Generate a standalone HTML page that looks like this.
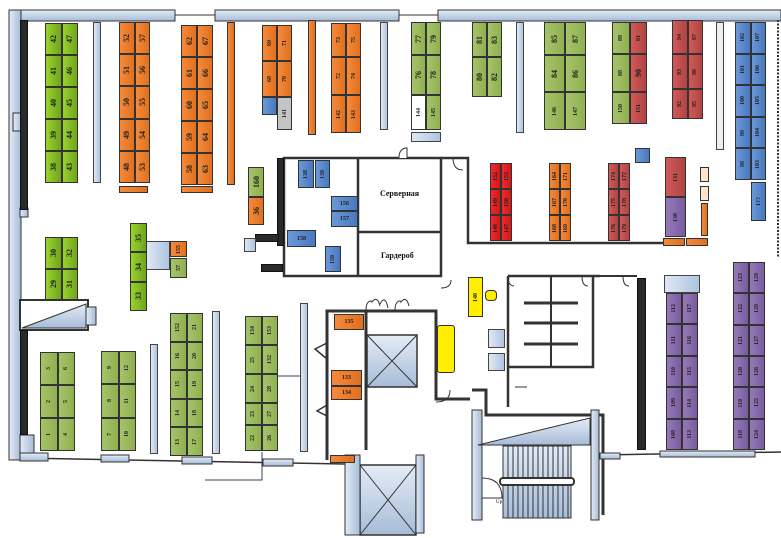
<!DOCTYPE html>
<html><head><meta charset="utf-8"><style>
body{margin:0;width:781px;height:538px;overflow:hidden;background:#fff;position:relative;font-family:"Liberation Serif","DejaVu Serif",serif}
svg{position:absolute;left:0;top:0}
.g{position:absolute;display:grid;grid-template-columns:1fr 1fr;grid-auto-flow:column}
.g>div,.s{border:1px solid #333;box-sizing:border-box;display:flex;align-items:center;justify-content:center;font-size:8px;font-weight:bold;color:#222;overflow:hidden}
.g>div span,.s span{writing-mode:vertical-rl;transform:rotate(180deg);white-space:nowrap}
.s{position:absolute}
.h span{writing-mode:horizontal-tb;transform:none}
.lg>div,.lg{background:linear-gradient(90deg,#9ad22e,#6ea51c)}
.og>div,.og{background:linear-gradient(90deg,#a5c46a,#8fb050)}
.or>div,.or{background:linear-gradient(90deg,#f58a3a,#e0701f)}
.rd>div,.rd{background:linear-gradient(90deg,#f02a2a,#d01818)}
.dr>div,.dr{background:linear-gradient(90deg,#d05a58,#b04442)}
.bl>div,.bl{background:linear-gradient(90deg,#6a98d8,#4a78c0)}
.pu>div,.pu{background:linear-gradient(90deg,#9479b8,#7a5c9e)}
.sm{font-size:6px!important}
.col{position:absolute;background:linear-gradient(90deg,#dfe8f4,#aec4e0);border:1px solid #444;box-sizing:border-box}
.blk{position:absolute;background:#2a2a2a;border:1px solid #111;box-sizing:border-box}
.t{position:absolute;font-size:9px;font-weight:bold;color:#111}
</style></head><body>
<svg width="781" height="538" viewBox="0 0 781 538">
<defs><linearGradient id="wb" x1="0" y1="0" x2="0" y2="1"><stop offset="0" stop-color="#e4ecf6"/><stop offset="1" stop-color="#a6bcd8"/></linearGradient>
<linearGradient id="wv" x1="0" y1="0" x2="1" y2="0"><stop offset="0" stop-color="#e4ecf6"/><stop offset="1" stop-color="#a6bcd8"/></linearGradient></defs>
<g stroke="#333" stroke-width="1">
<rect x="9" y="10" width="166" height="11" fill="url(#wb)"/>
<rect x="215" y="10" width="184" height="11" fill="url(#wb)"/>
<rect x="438" y="10" width="343" height="11" fill="url(#wb)"/>
<rect x="9" y="10" width="12" height="450" fill="url(#wv)"/>
<line x1="175" y1="15" x2="215" y2="15"/><line x1="399" y1="15" x2="438" y2="15"/>
<rect x="13" y="113" width="9" height="18" fill="url(#wv)"/>
<rect x="20" y="208" width="8" height="9" fill="url(#wv)"/>
<line x1="21" y1="458" x2="345" y2="464" stroke-width="1.5"/>
<rect x="20" y="453" width="28" height="8" fill="url(#wb)"/>
<rect x="101" y="455" width="28" height="7" fill="url(#wb)"/>
<rect x="182" y="457" width="30" height="7" fill="url(#wb)"/>
<rect x="263" y="459" width="30" height="7" fill="url(#wb)"/>
<!-- left stairs ramp -->
<rect x="20" y="300" width="68" height="30" fill="#fff" stroke-width="2"/>
<polygon points="22,328 86,304 86,328" fill="url(#wb)"/>
<rect x="86" y="307" width="10" height="18" fill="url(#wv)"/>
<rect x="20" y="435" width="14" height="18" fill="url(#wv)"/>
<!-- office -->
<rect x="284" y="158" width="157" height="118" fill="none" stroke-width="2.5"/>
<line x1="358" y1="158" x2="358" y2="276" stroke-width="2.5"/>
<line x1="358" y1="232" x2="441" y2="232" stroke-width="2.5"/>
<path d="M399,158 q0,-10 8,-10 v10" fill="#fff"/>
<path d="M441,288 q10,0 10,-8" fill="none"/>
<path d="M441,158 h27 v85 h200" fill="none" stroke-width="2.5"/>
<path d="M453,158 q0,12 10,12" fill="none"/>
<!-- corridor -->
<path d="M327,460 V311 H366 V450" fill="none" stroke-width="3"/>
<path d="M366,311 h70 v88 h34" fill="none" stroke-width="3"/>
<path d="M366,310 c0,-10 6,-10 6,-8 c3,-4 6,-4 8,4 M380,304 c3,-6 6,-6 8,4" fill="none"/>
<path d="M395,310 c0,-10 6,-10 6,-8 c3,-4 6,-4 8,4" fill="none"/>
<path d="M327,343 l-12,6 l12,10 M327,405 l-10,6 l10,5" fill="none" stroke-width="1.5"/>
<rect x="367" y="335" width="50" height="52" fill="url(#wb)" stroke-width="1.5"/>
<path d="M367,335 L417,387 M417,335 L367,387"/>
<path d="M360,465 h56 v70 h-56z" fill="url(#wb)" stroke-width="1.5"/>
<path d="M360,465 L416,535 M416,465 L360,535"/>
<rect x="345" y="455" width="15" height="80" fill="url(#wv)"/>
<rect x="416" y="455" width="8" height="78" fill="url(#wv)"/>
<path d="M436,402 q14,0 14,-12" fill="none"/>
<!-- lower right rooms -->
<path d="M472,390 h14 v25 h117 v100" fill="none" stroke-width="3"/>
<path d="M508,276 H600 M508,276 V407 M593,276 V367 H508" fill="none" stroke-width="2.5"/>
<path d="M508,276 q0,10 6,10 M582,276 q0,10 6,10 M623,276 q0,10 6,10" fill="none"/>
<line x1="600" y1="276" x2="637" y2="276" stroke-width="2"/>
<line x1="551" y1="276" x2="551" y2="367" stroke-width="2"/>
<g stroke-width="3"><line x1="524" y1="303" x2="578" y2="303"/><line x1="524" y1="323" x2="578" y2="323"/><line x1="524" y1="344" x2="578" y2="344"/></g>
<line x1="515" y1="387" x2="527" y2="387"/>
<rect x="472" y="410" width="10" height="110" fill="url(#wv)"/>
<rect x="591" y="410" width="8" height="110" fill="url(#wv)"/>
<polygon points="478,445 590,418 590,445" fill="url(#wb)"/>
<rect x="503" y="446" width="68" height="72" fill="url(#wb)"/>
<g stroke-width="1"><path d="M508,446v72M513,446v72M518,446v72M523,446v72M528,446v72M533,446v72M538,446v72M543,446v72M548,446v72M553,446v72M558,446v72M563,446v72M568,446v72"/></g>
<rect x="500" y="478" width="74" height="7" rx="3" fill="#fff" stroke-width="2"/>
<path d="M482,478 q20,0 20,20 h-20" fill="none"/>
<line x1="599" y1="455" x2="781" y2="452" stroke-width="1.5"/>
<rect x="600" y="453" width="20" height="6" fill="url(#wb)"/>
<rect x="660" y="451" width="95" height="6" fill="url(#wb)"/>
<path d="M778,20 V258" stroke-dasharray="2,1.5" stroke-width="2" fill="none"/>
<!-- tie lines -->
<path d="M262,452 V480 H205" fill="none" stroke="#345"/>
<line x1="278" y1="376" x2="300" y2="376" stroke="#345"/>
</g>
</svg>

<!-- black columns -->
<div class="blk" style="left:20px;top:20px;width:8px;height:190px"></div>
<div class="blk" style="left:20px;top:330px;width:8px;height:105px"></div>
<div class="blk" style="left:277px;top:158px;width:7px;height:88px"></div>
<div class="blk" style="left:255px;top:234px;width:24px;height:8px"></div>
<div class="blk" style="left:261px;top:264px;width:22px;height:8px"></div>
<div class="col" style="left:244px;top:238px;width:12px;height:14px"></div>
<div class="blk" style="left:637px;top:278px;width:9px;height:172px"></div>

<!-- grey columns -->
<div class="col" style="left:93px;top:22px;width:8px;height:161px"></div>
<div class="col" style="left:380px;top:22px;width:8px;height:108px"></div>
<div class="col" style="left:516px;top:22px;width:8px;height:111px"></div>
<div class="col" style="left:716px;top:22px;width:8px;height:128px;background:#eee"></div>
<div class="col" style="left:150px;top:344px;width:8px;height:110px"></div>
<div class="col" style="left:212px;top:311px;width:8px;height:143px"></div>
<div class="col" style="left:300px;top:303px;width:8px;height:149px"></div>
<div class="col" style="left:146px;top:241px;width:24px;height:29px"></div>
<div class="col" style="left:411px;top:132px;width:30px;height:10px"></div>
<div class="col" style="left:664px;top:275px;width:36px;height:18px"></div>
<div class="col" style="left:488px;top:329px;width:17px;height:19px"></div>
<div class="col" style="left:488px;top:353px;width:17px;height:18px"></div>

<!-- top row -->
<div class="g lg" style="left:45px;top:23px;width:33px;height:160px;grid-template-rows:repeat(5,1fr)"><div><span>42</span></div><div><span>41</span></div><div><span>40</span></div><div><span>39</span></div><div><span>38</span></div><div><span>47</span></div><div><span>46</span></div><div><span>45</span></div><div><span>44</span></div><div><span>43</span></div></div>
<div class="g or" style="left:119px;top:22px;width:31px;height:161px;grid-template-rows:repeat(5,1fr)"><div><span>52</span></div><div><span>51</span></div><div><span>50</span></div><div><span>49</span></div><div><span>48</span></div><div><span>57</span></div><div><span>56</span></div><div><span>55</span></div><div><span>54</span></div><div><span>53</span></div></div>
<div class="s or" style="left:119px;top:186px;width:29px;height:7px"></div>
<div class="g or" style="left:181px;top:25px;width:32px;height:160px;grid-template-rows:repeat(5,1fr)"><div><span>62</span></div><div><span>61</span></div><div><span>60</span></div><div><span>59</span></div><div><span>58</span></div><div><span>67</span></div><div><span>66</span></div><div><span>65</span></div><div><span>64</span></div><div><span>63</span></div></div>
<div class="s or" style="left:181px;top:186px;width:32px;height:7px"></div>
<div class="s or" style="left:227px;top:22px;width:8px;height:163px"></div>
<div class="g or" style="left:262px;top:25px;width:30px;height:72px;grid-template-rows:1fr 1fr"><div class="sm"><span>69</span></div><div class="sm"><span>68</span></div><div class="sm"><span>71</span></div><div class="sm"><span>70</span></div></div>
<div class="s bl" style="left:262px;top:97px;width:15px;height:18px"></div>
<div class="s sm" style="left:277px;top:97px;width:15px;height:33px;background:#c4c4c4"><span>141</span></div>
<div class="s or" style="left:308px;top:20px;width:8px;height:115px"></div>
<div class="g or" style="left:331px;top:23px;width:30px;height:110px;grid-template-rows:34fr 38fr 38fr"><div class="sm"><span>73</span></div><div class="sm"><span>72</span></div><div class="sm"><span>142</span></div><div class="sm"><span>75</span></div><div class="sm"><span>74</span></div><div class="sm"><span>143</span></div></div>
<div class="g og" style="left:411px;top:22px;width:30px;height:108px;grid-template-rows:33fr 40fr 35fr"><div><span>77</span></div><div><span>76</span></div><div class="sm" style="background:#fff"><span>144</span></div><div><span>79</span></div><div><span>78</span></div><div class="sm"><span>145</span></div></div>
<div class="g og" style="left:472px;top:22px;width:30px;height:75px;grid-template-rows:35fr 40fr"><div><span>81</span></div><div><span>80</span></div><div><span>83</span></div><div><span>82</span></div></div>
<div class="g og" style="left:544px;top:22px;width:42px;height:108px;grid-template-rows:33fr 37fr 38fr"><div><span>85</span></div><div><span>84</span></div><div class="sm"><span>146</span></div><div><span>87</span></div><div><span>86</span></div><div class="sm"><span>147</span></div></div>
<div class="g og" style="left:612px;top:22px;width:18px;height:102px;grid-template-columns:1fr;grid-template-rows:32fr 38fr 32fr"><div class="sm"><span>89</span></div><div class="sm"><span>88</span></div><div class="sm"><span>150</span></div></div>
<div class="g dr" style="left:630px;top:22px;width:17px;height:102px;grid-template-columns:1fr;grid-template-rows:32fr 38fr 32fr"><div class="sm"><span>91</span></div><div><span>90</span></div><div class="sm"><span>151</span></div></div>
<div class="g dr" style="left:672px;top:20px;width:31px;height:99px;grid-template-rows:34fr 35fr 30fr"><div class="sm"><span>94</span></div><div class="sm"><span>93</span></div><div class="sm"><span>92</span></div><div class="sm"><span>97</span></div><div class="sm"><span>96</span></div><div class="sm"><span>95</span></div></div>
<div class="g bl" style="left:735px;top:22px;width:31px;height:158px;grid-template-rows:repeat(5,1fr)"><div class="sm"><span>102</span></div><div class="sm"><span>101</span></div><div class="sm"><span>100</span></div><div class="sm"><span>99</span></div><div class="sm"><span>98</span></div><div class="sm"><span>107</span></div><div class="sm"><span>106</span></div><div class="sm"><span>105</span></div><div class="sm"><span>104</span></div><div class="sm"><span>103</span></div></div>
<div class="s bl sm" style="left:751px;top:182px;width:15px;height:39px"><span>1??</span></div>

<!-- middle -->
<div class="s og" style="left:248px;top:167px;width:16px;height:30px"><span>160</span></div>
<div class="s or" style="left:248px;top:197px;width:16px;height:28px"><span>36</span></div>
<div class="s bl sm" style="left:298px;top:160px;width:16px;height:28px"><span>138</span></div>
<div class="s bl sm" style="left:315px;top:160px;width:15px;height:28px"><span>139</span></div>
<div class="s bl h sm" style="left:331px;top:196px;width:27px;height:15px"><span>156</span></div>
<div class="s bl h sm" style="left:331px;top:211px;width:27px;height:16px"><span>157</span></div>
<div class="s bl h sm" style="left:287px;top:230px;width:29px;height:17px"><span>158</span></div>
<div class="s bl sm" style="left:325px;top:246px;width:16px;height:26px"><span>159</span></div>
<div class="t" style="left:380px;top:189px;font-size:8px">Серверная</div>
<div class="t" style="left:381px;top:251px;font-size:8px">Гардероб</div>
<div class="s bl" style="left:635px;top:148px;width:15px;height:15px"></div>

<div class="g rd" style="left:490px;top:163px;width:22px;height:78px;grid-template-rows:repeat(3,1fr)"><div class="sm"><span>152</span></div><div class="sm"><span>149</span></div><div class="sm"><span>148</span></div><div class="sm"><span>153</span></div><div class="sm"><span>150</span></div><div class="sm"><span>147</span></div></div>
<div class="g or" style="left:549px;top:163px;width:22px;height:78px;grid-template-rows:repeat(3,1fr)"><div class="sm"><span>164</span></div><div class="sm"><span>167</span></div><div class="sm"><span>168</span></div><div class="sm"><span>171</span></div><div class="sm"><span>170</span></div><div class="sm"><span>169</span></div></div>
<div class="s rd" style="left:608px;top:163px;width:11px;height:78px"></div>
<div class="g dr" style="left:608px;top:163px;width:22px;height:78px;grid-template-rows:repeat(3,1fr)"><div class="sm rd"><span>174</span></div><div class="sm rd"><span>175</span></div><div class="sm rd"><span>176</span></div><div class="sm"><span>177</span></div><div class="sm"><span>178</span></div><div class="sm"><span>179</span></div></div>
<div class="s dr sm" style="left:665px;top:157px;width:21px;height:40px"><span>131</span></div>
<div class="s pu sm" style="left:665px;top:197px;width:21px;height:40px"><span>130</span></div>
<div class="s or" style="left:663px;top:238px;width:22px;height:8px"></div>
<div class="s or" style="left:686px;top:238px;width:22px;height:8px"></div>
<div class="s" style="left:700px;top:167px;width:9px;height:15px;background:#fbe3cc"></div>
<div class="s" style="left:700px;top:186px;width:9px;height:15px;background:#fbe3cc"></div>
<div class="s or" style="left:701px;top:203px;width:7px;height:33px"></div>

<div class="g lg" style="left:45px;top:237px;width:33px;height:63px;grid-template-rows:1fr 1fr"><div><span>30</span></div><div><span>29</span></div><div><span>32</span></div><div><span>31</span></div></div>
<div class="g lg" style="left:130px;top:223px;width:17px;height:88px;grid-template-columns:1fr;grid-template-rows:1fr 1fr 1fr"><div><span>35</span></div><div><span>34</span></div><div><span>33</span></div></div>
<div class="s or sm" style="left:170px;top:241px;width:17px;height:16px"><span>155</span></div>
<div class="s og sm" style="left:170px;top:258px;width:17px;height:20px"><span>37</span></div>

<!-- bottom -->
<div class="g og" style="left:40px;top:352px;width:35px;height:99px;grid-template-rows:repeat(3,1fr)"><div class="sm"><span>3</span></div><div class="sm"><span>2</span></div><div class="sm"><span>1</span></div><div class="sm"><span>6</span></div><div class="sm"><span>5</span></div><div class="sm"><span>4</span></div></div>
<div class="g og" style="left:101px;top:351px;width:35px;height:100px;grid-template-rows:repeat(3,1fr)"><div class="sm"><span>9</span></div><div class="sm"><span>8</span></div><div class="sm"><span>7</span></div><div class="sm"><span>12</span></div><div class="sm"><span>11</span></div><div class="sm"><span>10</span></div></div>
<div class="g og" style="left:170px;top:313px;width:33px;height:143px;grid-template-rows:repeat(5,1fr)"><div class="sm"><span>152</span></div><div class="sm"><span>16</span></div><div class="sm"><span>15</span></div><div class="sm"><span>14</span></div><div class="sm"><span>13</span></div><div class="sm"><span>21</span></div><div class="sm"><span>20</span></div><div class="sm"><span>19</span></div><div class="sm"><span>18</span></div><div class="sm"><span>17</span></div></div>
<div class="g og" style="left:245px;top:316px;width:33px;height:135px;grid-template-rows:29fr 29fr 29fr 22fr 26fr"><div class="sm"><span>134</span></div><div class="sm"><span>25</span></div><div class="sm"><span>24</span></div><div class="sm"><span>23</span></div><div class="sm"><span>22</span></div><div class="sm"><span>153</span></div><div class="sm"><span>132</span></div><div class="sm"><span>28</span></div><div class="sm"><span>27</span></div><div class="sm"><span>26</span></div></div>
<div class="s or h sm" style="left:334px;top:314px;width:30px;height:16px"><span>135</span></div>
<div class="s or h sm" style="left:331px;top:370px;width:31px;height:16px"><span>133</span></div>
<div class="s or h sm" style="left:331px;top:386px;width:31px;height:14px"><span>134</span></div>
<div class="s or" style="left:330px;top:455px;width:25px;height:8px"></div>
<div class="s sm" style="left:468px;top:277px;width:15px;height:40px;background:#ffee00"><span>140</span></div>
<div class="s" style="left:485px;top:290px;width:12px;height:11px;background:#ffee00;border-radius:4px"></div>
<div class="s" style="left:437px;top:325px;width:18px;height:48px;background:#ffee00;border-radius:3px"></div>
<div class="g pu" style="left:666px;top:293px;width:32px;height:157px;grid-template-rows:repeat(5,1fr)"><div class="sm"><span>112</span></div><div class="sm"><span>111</span></div><div class="sm"><span>110</span></div><div class="sm"><span>109</span></div><div class="sm"><span>108</span></div><div class="sm"><span>117</span></div><div class="sm"><span>116</span></div><div class="sm"><span>115</span></div><div class="sm"><span>114</span></div><div class="sm"><span>113</span></div></div>
<div class="g pu" style="left:733px;top:262px;width:32px;height:188px;grid-template-rows:repeat(6,1fr)"><div class="sm"><span>123</span></div><div class="sm"><span>122</span></div><div class="sm"><span>121</span></div><div class="sm"><span>120</span></div><div class="sm"><span>119</span></div><div class="sm"><span>118</span></div><div class="sm"><span>129</span></div><div class="sm"><span>128</span></div><div class="sm"><span>127</span></div><div class="sm"><span>126</span></div><div class="sm"><span>125</span></div><div class="sm"><span>124</span></div></div>
<div class="t" style="left:496px;top:500px;font-size:5px;font-weight:normal">Up</div>
</body></html>
